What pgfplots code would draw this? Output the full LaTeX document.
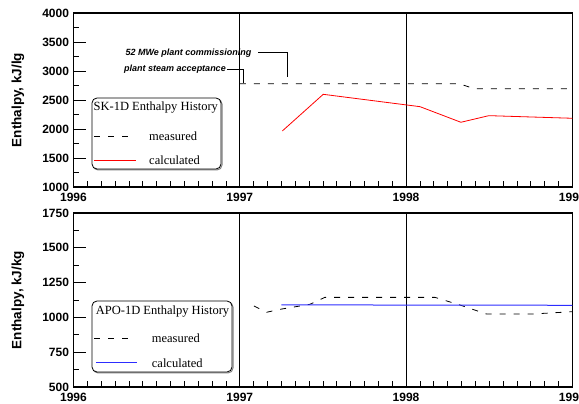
\documentclass[border=0pt]{standalone}
\usepackage{fontspec}
\setmainfont{Liberation Sans}
\newfontfamily\serif{Liberation Serif}
\usepackage{pgfplots}
\pgfplotsset{compat=1.18}
\definecolor{calcblue}{RGB}{45,45,255}
\definecolor{calcred}{RGB}{255,0,0}

\pgfplotsset{yrstyle/.style={
  width=498.8pt, height=174pt, scale only axis,
  anchor=south west,
  xmin=1996, xmax=1999,
  xtick={1996,1997,1998,1999},
  minor x tick num=11,
  xtick pos=bottom, ytick pos=left,
  tick align=inside,
  major tick length=13pt, minor tick length=6pt,
  xmajorgrids, major grid style={black, line width=0.7pt},
  axis line style={line width=1.1pt},
  every tick/.style={black, line width=0.7pt},
  /pgf/number format/1000 sep={},
  /pgf/number format/assume math mode=true,
  ticklabel style={font=\bfseries\fontsize{12}{13}\selectfont},
  xticklabel style={yshift=-3pt},
  yticklabel style={xshift=-1pt},
  every axis y label/.style={at={(axis description cs:-0.1113,0.5)},
    anchor=center, rotate=90, font=\bfseries\fontsize{13.5}{15}\selectfont},
}}

\begin{document}
\begin{tikzpicture}[x=1pt,y=1pt]
% ---------- SK-1D ----------
\begin{axis}[yrstyle, at={(73.5pt,217pt)},
  ymin=1000, ymax=4000, ytick={1000,1500,...,4000}, minor y tick num=1,
  ylabel={Enthalpy, kJ/lg}]
  \addplot[black, line width=0.8pt, dash pattern=on 6pt off 8pt]
    coordinates {(1997.0,2780)(1998.32,2780)(1998.41,2695)(1999,2695)};
  \addplot[calcred, line width=0.8pt]
    coordinates {(1997.256,1966)(1997.502,2598)(1998.084,2385)(1998.33,2116)(1998.498,2230)(1999,2185)};
\end{axis}
% ---------- APO-1D ----------
\begin{axis}[yrstyle, at={(73.5pt,17pt)},
  ymin=500, ymax=1750, ytick={500,750,...,1750}, minor y tick num=1,
  ylabel={Enthalpy, kJ/kg}]
  \addplot[black, line width=0.8pt, dash pattern=on 6pt off 8pt]
    coordinates {(1997.085,1082)(1997.162,1037)(1997.242,1058)(1997.422,1094)(1997.512,1144)(1998.174,1144)(1998.324,1089)(1998.485,1024)(1998.755,1024)(1999,1041)};
  \addplot[calcblue, line width=1pt]
    coordinates {(1997.25,1090)(1999,1087)};
\end{axis}
% legend frames and sample lines
\draw[gray, line width=1pt, rounded corners=5pt] (93,234) rectangle (222,305);
\draw[rounded corners=5pt, line width=0.8pt, fill=white] (92,235) rectangle (221,306);
\draw[gray, line width=1pt, rounded corners=5pt] (93,31) rectangle (233,102);
\draw[rounded corners=5pt, line width=0.8pt, fill=white] (92,32) rectangle (232,103);
\draw[black, line width=0.8pt, dash pattern=on 6pt off 8pt] (94.3,268) -- (136,268);
\draw[black, line width=0.8pt, dash pattern=on 6pt off 8pt] (94.3,66) -- (133.3,66);
\fill[calcred] (94.3,243.55) rectangle (136,244.45);
\fill[calcblue] (95.7,40.5) rectangle (136.7,41.5);
% annotations
\draw[line width=0.7pt] (258,351.3) -- (287,351.3) -- (287,327);
\draw[line width=0.7pt] (227,334.7) -- (243.3,334.7) -- (243.3,321);
\node[font=\bfseries\itshape\fontsize{9}{10}\selectfont, inner sep=0] at (188.5,350.5) {52 MWe plant commissioning};
\node[font=\bfseries\itshape\fontsize{9}{10}\selectfont, inner sep=0] at (175,334.5) {plant steam acceptance};
% legend texts
\node[font=\serif\fontsize{12.5}{14}\selectfont, anchor=west, inner sep=0] at (93.5,296) {SK-1D Enthalpy History};
\node[font=\serif\fontsize{12.5}{14}\selectfont, anchor=west, inner sep=0] at (149,268) {measured};
\node[font=\serif\fontsize{12.5}{14}\selectfont, anchor=west, inner sep=0] at (149,244) {calculated};
\node[font=\serif\fontsize{12.5}{14}\selectfont, anchor=west, inner sep=0] at (95.7,92) {APO-1D Enthalpy History};
\node[font=\serif\fontsize{12.5}{14}\selectfont, anchor=west, inner sep=0] at (151.7,66) {measured};
\node[font=\serif\fontsize{12.5}{14}\selectfont, anchor=west, inner sep=0] at (151.7,41) {calculated};
\pgfresetboundingbox
\path[use as bounding box] (0,0) rectangle (579,404);
\end{tikzpicture}
\end{document}
